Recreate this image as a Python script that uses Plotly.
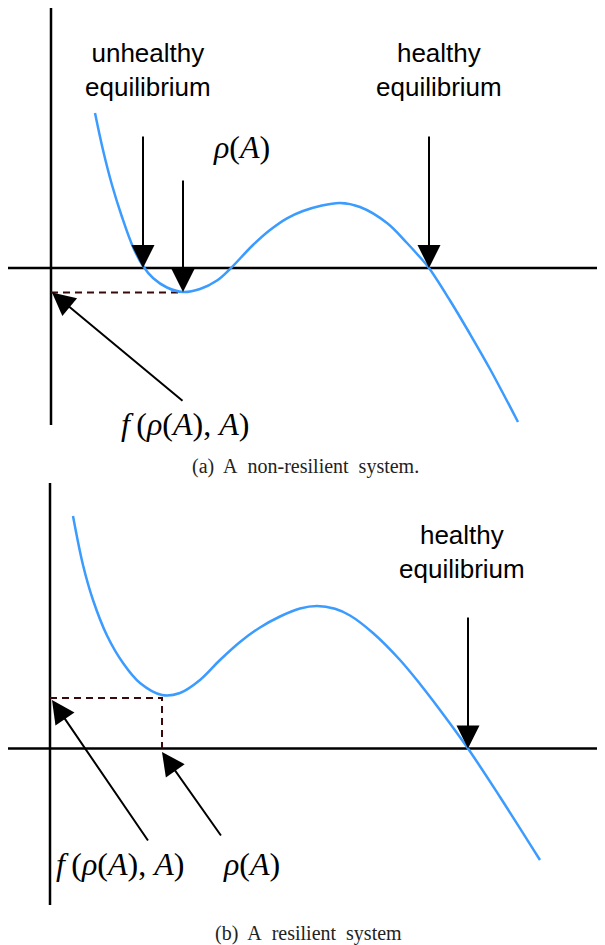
import plotly.graph_objects as go

# ---------------------------------------------------------------
# Data (units: origin at the axes crossing of each panel)
# ---------------------------------------------------------------
# (a) non-resilient system
a_curve_x = [4.4, 5.2, 6.1, 7.1, 8.2, 9.2, 10.2, 11.6, 13.2, 14.9, 16.6, 17.9,
             20.2, 21.9, 23.6, 25.2, 26.9, 28.9, 30.9, 33.6, 35.6, 36.9, 37.8,
             39.9, 41.9, 43.9, 46.7]
a_curve_y = [15.5, 11.8, 8.3, 5.1, 2.1, 0.2, -1.0, -1.95, -2.4, -2.1, -1.25, -0.1,
             2.3, 3.8, 4.97, 5.7, 6.2, 6.5, 6.1, 4.5, 2.5, 1.07, 0.0,
             -3.25, -6.6, -10.1, -15.4]
a_unhealthy_eq = 9.2
a_healthy_eq = 37.8
a_rho = 13.2
a_f_rho = -2.45
a_eq_arrow_top = 13.3
a_rho_arrow_top = 8.9
a_f_label_tail = (13.3, -13.4)
a_vaxis = [-15.7, 26.6]
a_haxis = [-4.6, 55.4]

# (b) resilient system
b_curve_x = [2.3, 3.3, 4.3, 5.7, 7.3, 9.0, 11.2, 13.0, 15.0, 17.0, 19.0, 21.0,
             23.0, 25.0, 26.7, 28.5, 30.0, 32.3, 35.0, 37.0, 39.0, 41.8, 45.0,
             49.0]
b_curve_y = [23.25, 18.35, 14.85, 11.3, 8.55, 6.55, 5.35, 5.55, 6.85, 8.85,
             10.65, 12.1, 13.2, 14.0, 14.25, 13.97, 13.3, 11.55, 8.85, 6.45,
             3.85, 0.0, -4.85, -11.15]
b_healthy_eq = 41.8
b_rho = 11.2
b_f_rho = 5.05
b_eq_arrow_top = 13.25
b_f_label_tail = (9.9, -9.35)
b_rho_label_tail = (17.2, -8.85)
b_vaxis = [-15.65, 26.55]
b_haxis = [-4.5, 55.5]

CURVE_COLOR = "#3b9bff"
DASH_COLOR = "#3a0a0a"
SANS = "Liberation Sans, Arial, sans-serif"
SERIF = "Liberation Serif, Times New Roman, serif"

RHO = "<i>ρ</i>(<i>A</i>)"
F_RHO = "<i>f</i>&#8201;(<i>ρ</i>(<i>A</i>), <i>A</i>)"

# the page body keeps an 8px margin, so the figure is 8px smaller
W, H, OFF = 605, 945, 8


def _line(fig, xs, ys, row, color="black", width=2.5, dash=None, shape="linear"):
    fig.add_trace(
        go.Scatter(
            x=xs, y=ys, mode="lines",
            line=dict(color=color, width=width, dash=dash, shape=shape),
            xaxis="x" if row == 1 else "x2",
            yaxis="y" if row == 1 else "y2",
            hoverinfo="skip", showlegend=False,
        )
    )


def _arrow(fig, tip, tail, row):
    xr, yr = ("x", "y") if row == 1 else ("x2", "y2")
    fig.add_annotation(
        x=tip[0], y=tip[1], ax=tail[0], ay=tail[1],
        xref=xr, yref=yr, axref=xr, ayref=yr,
        text="", showarrow=True,
        arrowhead=2, arrowsize=2.3, arrowwidth=2, arrowcolor="black",
        standoff=0,
    )


def _text(fig, x, y, text, row, font):
    xr, yr = ("x", "y") if row == 1 else ("x2", "y2")
    fig.add_annotation(
        x=x, y=y, xref=xr, yref=yr, text=text, showarrow=False,
        xanchor="center", yanchor="middle", font=font,
    )


fig = go.Figure()

label_font = dict(family=SANS, size=26, color="black")
math_font = dict(family=SERIF, size=32, color="black")

# ---------------- panel (a) ----------------
_line(fig, [0, 0], a_vaxis, 1)
_line(fig, a_haxis, [0, 0], 1)
_line(fig, [0, a_rho], [a_f_rho, a_f_rho], 1, color=DASH_COLOR, width=2, dash="7px,5px")
_line(fig, a_curve_x, a_curve_y, 1, color=CURVE_COLOR, width=2.5, shape="spline")

_arrow(fig, (a_unhealthy_eq, 0), (a_unhealthy_eq, a_eq_arrow_top), 1)
_arrow(fig, (a_rho, a_f_rho + 0.05), (a_rho, a_rho_arrow_top), 1)
_arrow(fig, (a_healthy_eq, 0), (a_healthy_eq, a_eq_arrow_top), 1)
_arrow(fig, (0.1, a_f_rho), a_f_label_tail, 1)

_text(fig, 9.7, 19.85, "unhealthy<br>equilibrium", 1, label_font)
_text(fig, 38.8, 19.85, "healthy<br>equilibrium", 1, label_font)
_text(fig, 19.0, 12.1, RHO, 1, math_font)
_text(fig, 13.4, -15.6, F_RHO, 1, math_font)

# ---------------- panel (b) ----------------
_line(fig, [0, 0], b_vaxis, 2)
_line(fig, b_haxis, [0, 0], 2)
_line(fig, [0, b_rho, b_rho], [b_f_rho, b_f_rho, 0], 2, color=DASH_COLOR, width=2, dash="7px,5px")
_line(fig, b_curve_x, b_curve_y, 2, color=CURVE_COLOR, width=2.5, shape="spline")

_arrow(fig, (b_healthy_eq, 0), (b_healthy_eq, b_eq_arrow_top), 2)
_arrow(fig, (0.2, b_f_rho - 0.2), b_f_label_tail, 2)
_arrow(fig, (b_rho, -0.35), b_rho_label_tail, 2)

_text(fig, 41.2, 19.65, "healthy<br>equilibrium", 2, label_font)
_text(fig, 7.0, -11.5, F_RHO, 2, math_font)
_text(fig, 20.1, -11.5, RHO, 2, math_font)

# captions
cap_font = dict(family=SERIF, size=20, color="#222222")
fig.add_annotation(x=(305 - OFF) / (W - OFF), y=1 - (466 - OFF) / (H - OFF),
                   xref="paper", yref="paper",
                   text="(a)&nbsp; A&nbsp; non-resilient&nbsp; system.", showarrow=False,
                   xanchor="center", yanchor="middle", font=cap_font)
fig.add_annotation(x=(308 - OFF) / (W - OFF), y=1 - (933 - OFF) / (H - OFF),
                   xref="paper", yref="paper",
                   text="(b)&nbsp; A&nbsp; resilient&nbsp; system", showarrow=False,
                   xanchor="center", yanchor="middle", font=cap_font)

split = 1 - (472 - OFF) / (H - OFF)
hidden = dict(visible=False, fixedrange=True)
fig.update_layout(
    width=W - OFF, height=H - OFF,
    margin=dict(l=0, r=0, t=0, b=0),
    paper_bgcolor="white", plot_bgcolor="white",
    showlegend=False,
    xaxis=dict(domain=[0, 1], range=[(OFF - 51) / 10, (W - 51) / 10], anchor="y", **hidden),
    yaxis=dict(domain=[split, 1], range=[(268 - 472) / 10, (268 - OFF) / 10], anchor="x", **hidden),
    xaxis2=dict(domain=[0, 1], range=[(OFF - 50) / 10, (W - 50) / 10], anchor="y2", **hidden),
    yaxis2=dict(domain=[0, split], range=[(748.5 - H) / 10, (748.5 - 472) / 10], anchor="x2", **hidden),
)

fig.write_html("out.html")
